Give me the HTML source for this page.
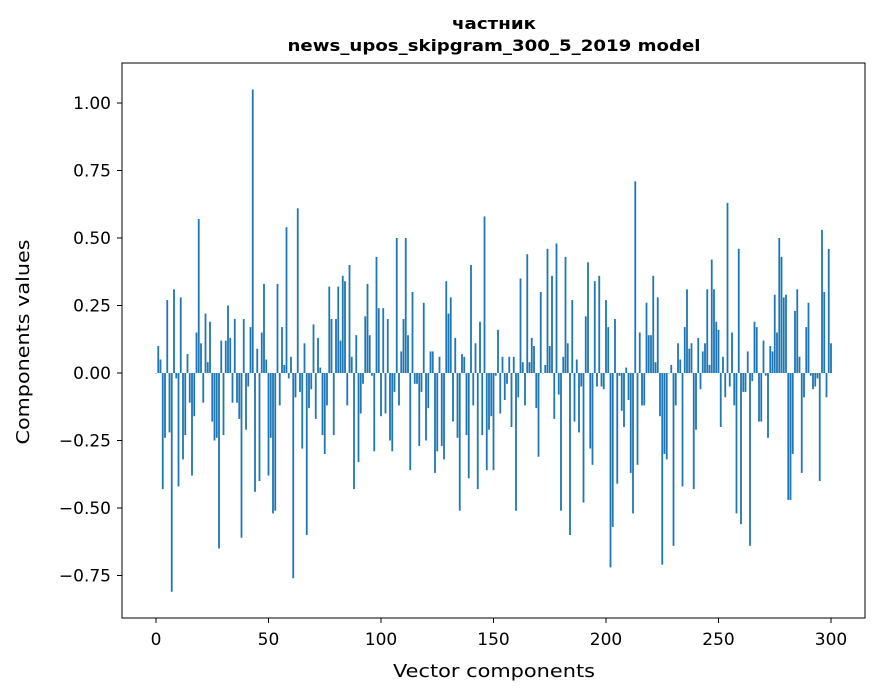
<!DOCTYPE html>
<html><head><meta charset="utf-8"><style>
body{margin:0;background:#fff;}
svg{display:block;font-family:"DejaVu Sans","Liberation Sans",sans-serif;}
</style></head><body>
<svg id="chart" width="880" height="696">
<rect width="880" height="696" fill="#fff"/>
<text x="494" y="29" text-anchor="middle" font-size="16" font-weight="bold" textLength="84" lengthAdjust="spacingAndGlyphs">частник</text>
<text x="494" y="51" text-anchor="middle" font-size="16" font-weight="bold" textLength="413" lengthAdjust="spacingAndGlyphs">news_upos_skipgram_300_5_2019 model</text>
<g id="bars"></g>
<g id="axes"></g>
<rect x="122" y="63" width="743" height="555" fill="none" stroke="#000" stroke-width="1"/>
<text x="494" y="677" text-anchor="middle" font-size="18" textLength="202" lengthAdjust="spacingAndGlyphs">Vector components</text>
<text transform="translate(29,342) rotate(-90)" text-anchor="middle" font-size="18" textLength="205" lengthAdjust="spacingAndGlyphs">Components values</text>
</svg>
<script>
const values=[0.00,0.10,0.05,-0.43,-0.24,0.27,-0.22,-0.81,0.31,-0.02,-0.42,0.28,-0.32,-0.23,0.07,-0.11,-0.38,-0.16,0.15,0.57,0.11,-0.11,0.22,0.04,0.19,-0.18,-0.25,-0.24,-0.65,0.12,-0.23,0.12,0.25,0.13,-0.11,0.20,-0.11,-0.17,-0.61,0.20,-0.21,-0.05,0.17,1.05,-0.44,0.09,-0.40,0.15,0.33,0.05,-0.38,
-0.24,-0.52,-0.51,0.33,-0.12,0.17,0.03,0.54,-0.02,0.06,-0.76,-0.09,0.61,-0.07,-0.28,0.11,-0.60,-0.13,-0.06,0.18,-0.17,0.13,0.02,-0.23,-0.30,-0.12,0.32,0.20,-0.23,0.20,0.32,0.12,0.36,0.34,-0.12,0.40,0.06,-0.43,0.14,-0.33,-0.15,-0.04,0.21,0.33,0.14,-0.01,-0.29,0.43,0.24,-0.16,
0.24,-0.15,0.20,-0.25,-0.29,-0.07,0.50,-0.12,0.08,0.20,0.50,0.14,-0.36,0.30,-0.04,-0.04,-0.27,-0.07,0.26,-0.25,-0.13,0.08,0.08,-0.37,-0.29,0.06,-0.27,-0.32,0.34,0.22,0.28,-0.18,0.13,-0.24,-0.51,0.07,0.06,-0.23,-0.39,0.40,-0.12,0.11,-0.43,0.19,-0.23,0.58,-0.36,-0.21,-0.16,-0.36,
-0.01,0.16,-0.15,0.06,-0.10,-0.04,0.06,-0.20,0.06,-0.51,-0.09,0.35,0.04,-0.12,0.44,0.04,0.13,0.10,-0.13,-0.31,0.30,0.00,0.03,0.46,0.10,0.36,-0.17,0.48,-0.08,-0.51,0.06,0.43,0.11,-0.60,0.27,-0.18,0.05,-0.22,-0.05,-0.48,0.21,0.41,-0.28,-0.34,0.34,-0.05,0.36,-0.05,-0.06,0.27,
0.17,-0.72,-0.57,0.20,-0.41,-0.01,-0.14,-0.20,0.02,-0.10,-0.37,-0.52,0.71,-0.34,0.15,-0.12,-0.12,0.26,0.14,0.14,0.36,0.04,0.28,-0.16,-0.71,-0.30,-0.32,0.00,0.03,-0.64,-0.12,0.11,0.05,-0.42,0.17,0.31,0.09,0.11,-0.43,-0.21,0.13,-0.06,0.08,0.11,0.31,0.03,0.42,0.31,0.19,0.16,
-0.20,0.06,-0.09,0.63,-0.05,0.15,-0.12,-0.52,0.46,-0.56,-0.07,-0.07,0.08,-0.64,-0.03,0.19,0.17,-0.18,-0.18,0.12,-0.01,-0.24,0.10,0.08,0.29,0.15,0.50,0.43,0.28,0.29,-0.47,-0.47,-0.30,0.23,0.31,0.06,-0.37,-0.09,0.17,0.26,-0.01,-0.06,-0.05,-0.02,-0.40,0.53,0.30,-0.09,0.46,0.11];
const xTicks=[0,50,100,150,200,250,300];
const yTicks=[-0.75,-0.50,-0.25,0.00,0.25,0.50,0.75,1.00];
const xs=v=>156+v*2.25;
const ys=v=>373-v*270;
const NS="http://www.w3.org/2000/svg";
const bars=document.getElementById('bars');
values.forEach((v,i)=>{
  const r=document.createElementNS(NS,'rect');
  
  
  r.setAttribute('x',xs(i)-0.9);
  r.setAttribute('width',1.8);
  r.setAttribute('y',Math.min(ys(v),ys(0)));
  r.setAttribute('height',Math.max(Math.abs(ys(v)-ys(0)),0.3));
  r.setAttribute('fill','#1f77b4');
  bars.appendChild(r);
});
const axes=document.getElementById('axes');
xTicks.forEach(t=>{
  const l=document.createElementNS(NS,'line');
  
  
  l.setAttribute('x1',xs(t));l.setAttribute('x2',xs(t));
  l.setAttribute('y1',618);l.setAttribute('y2',623);
  l.setAttribute('stroke','#000');
  axes.appendChild(l);
  const tx=document.createElementNS(NS,'text');
  
  
  tx.setAttribute('x',xs(t));tx.setAttribute('y',645);
  tx.setAttribute('text-anchor','middle');tx.setAttribute('font-size','17');
  tx.textContent=t;
  axes.appendChild(tx);
});
yTicks.forEach(t=>{
  const l=document.createElementNS(NS,'line');
  
  
  l.setAttribute('x1',117);l.setAttribute('x2',122);
  l.setAttribute('y1',ys(t));l.setAttribute('y2',ys(t));
  l.setAttribute('stroke','#000');
  axes.appendChild(l);
  const tx=document.createElementNS(NS,'text');
  
  
  tx.setAttribute('x',111);tx.setAttribute('y',ys(t)+6);
  tx.setAttribute('text-anchor','end');tx.setAttribute('font-size','17');
  tx.textContent=(t<0?'\u2212':'')+Math.abs(t).toFixed(2);
  axes.appendChild(tx);
});
</script>
</body></html>
